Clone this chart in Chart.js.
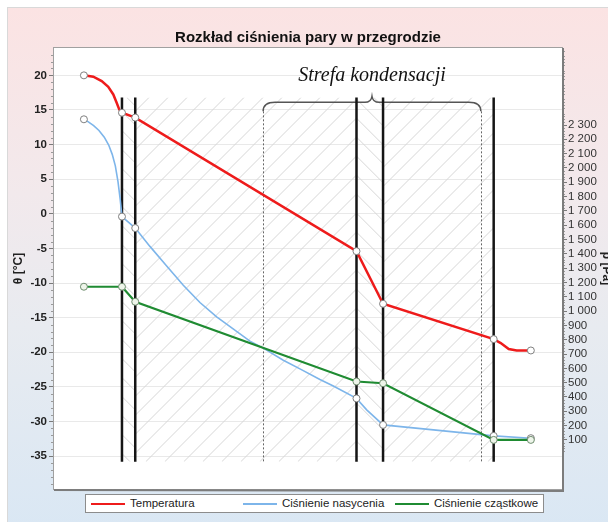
<!DOCTYPE html>
<html>
<head>
<meta charset="utf-8">
<title>Rozkład ciśnienia pary w przegrodzie</title>
<script src="https://cdn.jsdelivr.net/npm/chart.js"></script>
<style>
  html, body { margin: 0; padding: 0; overflow: hidden; background: #fff; }
  #wrap { position: relative; width: 608px; height: 522px; overflow: hidden; }
  #frame { position: absolute; left: 7px; top: 7px; width: 720px; height: 530px;
           border: 1px solid #d9d9d9;
           background: linear-gradient(to bottom, #fbe3e3 0%, #f2e9ec 35%, #e8ebf0 60%, #d9e7f4 100%); }
  #chart { position: absolute; left: 0; top: 0; }
  #legend { position: absolute; left: 85px; top: 494px; width: 457px; height: 17px;
            border: 1px solid #8c8c8c; background: #fff;
            font: 11.5px "Liberation Sans", Arial, sans-serif; color: #222; }
  .item { position: absolute; top: 0; height: 17px; line-height: 17px; white-space: nowrap; }
  .item i { display: inline-block; width: 34px; height: 2px; vertical-align: middle; margin-right: 5px; }
</style>
</head>
<body>
<div id="wrap">
  <div id="frame"></div>
  <canvas id="chart" width="620" height="522"></canvas>
  <div id="legend"></div>
</div>

<script>
// wall layers (cm from the inner surface), air film points outside them
const layerBounds = [0, 1.5, 26.5, 29.5, 42];
const markerX = [-4.3, 0, 1.5, 26.5, 29.5, 42, 46.2];
const condZone = [15.95, 40.55];

const tempTicks = [20, 15, 10, 5, 0, -5, -10, -15, -20, -25, -30, -35];
const pressureTicks = [100, 200, 300, 400, 500, 600, 700, 800, 900, 1000, 1100, 1200,
                       1300, 1400, 1500, 1600, 1700, 1800, 1900, 2000, 2100, 2200, 2300];

// temperature [°C]
const tempX = [-4.3, -3.24, -2.29, -1.55, -0.98, -0.6, -0.31, 0, 1.5, 26.5, 29.5, 42, 42.8, 43.7, 44.6, 46.2];
const tempY = [20, 19.8, 19.16, 18.35, 17.24, 16.04, 15.07, 14.6, 13.9, -5.4, -13.0, -18.1, -18.67, -19.54, -19.74, -19.74];

// saturation pressure [Pa]
const satX = [-4.3, -3.8, -3.2, -2.6, -2.0, -1.5, -1.1, -0.75, -0.45, -0.2, 0, 1.5, 3.16, 5.05, 6.93, 8.81, 10.7,
              14.46, 15.97, 18.23, 20.11, 22.37, 23.88, 26.5, 27.65, 29.5, 35.2, 42, 46.2];
const satP = [2340, 2322, 2296, 2262, 2215, 2160, 2095, 2015, 1905, 1780, 1660, 1580, 1452, 1315, 1180, 1060, 960,
              790, 741, 657, 596, 522, 477, 390, 310, 205, 170, 128, 112];

// partial pressure [Pa]
const partX = [-4.3, 0, 1.5, 26.5, 29.5, 42, 46.2];
const partP = [1170, 1170, 1065, 508, 496, 100, 100];

const wallTop = 16.8, wallBottom = -35.8, braceLevel = 16.1;

const pts = (xs, ys) => xs.map((x, i) => ({ x: x, y: ys[i] }));
const markerR = c => markerX.includes(c.raw.x) ? 3.5 : 0;
const fmtPa = v => String(v).replace(/\B(?=(\d{3})+(?!\d))/g, ' ');

const wallSets = layerBounds.map(x => ({
  data: [{ x: x, y: wallTop }, { x: x, y: wallBottom }],
  yAxisID: 'y', borderColor: '#151515', borderWidth: 2.5, pointRadius: 0, order: 5
}));

const decor = {
  id: 'decor',
  beforeDraw(chart) {
    const { ctx, chartArea: a } = chart;
    ctx.save();
    ctx.fillStyle = '#fff';
    ctx.fillRect(a.left, a.top, a.right - a.left, a.bottom - a.top);
    ctx.restore();
  },
  beforeDatasetsDraw(chart) {
    const { ctx, chartArea: a, scales } = chart;
    const xs = scales.x, ys = scales.y;
    const top = ys.getPixelForValue(wallTop), bot = ys.getPixelForValue(wallBottom);
    const h = bot - top, step = 19;
    const dirs = ['back', 'fwd', 'back', 'fwd'];
    // hatching of the layers
    for (let i = 0; i < layerBounds.length - 1; i++) {
      const x1 = xs.getPixelForValue(layerBounds[i]), x2 = xs.getPixelForValue(layerBounds[i + 1]);
      ctx.save();
      ctx.beginPath();
      ctx.rect(x1, top, x2 - x1, h);
      ctx.clip();
      ctx.beginPath();
      ctx.strokeStyle = '#d6d6d6';
      ctx.lineWidth = 1;
      for (let c = a.left - h; c < a.right + step; c += step) {
        if (dirs[i] === 'fwd') { ctx.moveTo(c, bot); ctx.lineTo(c + h, top); }
        else { ctx.moveTo(c, top); ctx.lineTo(c + h, bot); }
      }
      ctx.stroke();
      ctx.restore();
    }
    // condensation zone: dotted borders, brace, caption
    const z1 = xs.getPixelForValue(condZone[0]), z2 = xs.getPixelForValue(condZone[1]);
    const yb = ys.getPixelForValue(braceLevel), mid = (z1 + z2) / 2;
    ctx.save();
    ctx.strokeStyle = '#666';
    ctx.lineWidth = 1;
    ctx.setLineDash([2, 2]);
    ctx.beginPath();
    ctx.moveTo(Math.round(z1) + 0.5, yb + 9); ctx.lineTo(Math.round(z1) + 0.5, bot);
    ctx.moveTo(Math.round(z2) + 0.5, yb + 9); ctx.lineTo(Math.round(z2) + 0.5, bot);
    ctx.stroke();
    ctx.setLineDash([]);
    ctx.strokeStyle = '#555';
    ctx.lineWidth = 1.5;
    ctx.beginPath();
    ctx.moveTo(z1, yb + 9);
    ctx.quadraticCurveTo(z1, yb, z1 + 12, yb);
    ctx.lineTo(mid - 7, yb);
    ctx.quadraticCurveTo(mid - 1, yb, mid, yb - 6);
    ctx.quadraticCurveTo(mid + 1, yb, mid + 7, yb);
    ctx.lineTo(z2 - 12, yb);
    ctx.quadraticCurveTo(z2, yb, z2, yb + 9);
    ctx.stroke();
    ctx.fillStyle = '#111';
    ctx.font = 'italic 20px "Liberation Serif", "DejaVu Serif", serif';
    ctx.textAlign = 'center';
    ctx.textBaseline = 'alphabetic';
    ctx.fillText('Strefa kondensacji', mid, yb - 21);
    ctx.restore();
  },
  afterDraw(chart) {
    const { ctx, chartArea: a, scales } = chart;
    const ys = scales.y, yr = scales.y2;
    ctx.save();
    // minor ticks
    ctx.strokeStyle = '#9a9a9a';
    ctx.lineWidth = 1;
    ctx.beginPath();
    for (let v = -39; v <= 23; v++) {
      if (v % 5 === 0) continue;
      const py = Math.round(ys.getPixelForValue(v)) + 0.5;
      ctx.moveTo(a.left - 3, py); ctx.lineTo(a.left, py);
    }
    for (let v = 0; v <= 2820; v += 20) {
      if (v % 100 === 0) continue;
      const py = Math.round(yr.getPixelForValue(v)) + 0.5;
      ctx.moveTo(a.right, py); ctx.lineTo(a.right + 3, py);
    }
    ctx.stroke();
    // plot frame
    ctx.strokeStyle = '#a0a0a0';
    ctx.strokeRect(Math.round(a.left) - 0.5, Math.round(a.top) - 0.5, Math.round(a.right - a.left) + 1, Math.round(a.bottom - a.top) + 1);
    ctx.strokeStyle = '#7c7c7c';
    ctx.lineWidth = 2;
    ctx.beginPath();
    ctx.moveTo(Math.round(a.right) + 1, Math.round(a.top));
    ctx.lineTo(Math.round(a.right) + 1, Math.round(a.bottom) + 2);
    ctx.lineTo(Math.round(a.left), Math.round(a.bottom) + 1);
    ctx.stroke();
    ctx.restore();
  }
};

const ctx = document.getElementById('chart').getContext('2d');
const chart = new Chart(ctx, {
  type: 'line',
  data: {
    datasets: [
      { label: 'Temperatura', data: pts(tempX, tempY), yAxisID: 'y', inLegend: true,
        borderColor: '#ee1b1b', borderWidth: 2.5, order: 1,
        pointRadius: markerR, pointBackgroundColor: '#fff', pointBorderColor: '#808080', pointBorderWidth: 1 },
      { label: 'Ciśnienie nasycenia', data: pts(satX, satP), yAxisID: 'y2', inLegend: true,
        borderColor: '#7db5ea', borderWidth: 1.6, order: 3,
        pointRadius: markerR, pointBackgroundColor: '#fff', pointBorderColor: '#808080', pointBorderWidth: 1 },
      { label: 'Ciśnienie cząstkowe', data: pts(partX, partP), yAxisID: 'y2', inLegend: true,
        borderColor: '#1f8b32', borderWidth: 2.2, order: 2,
        pointRadius: markerR, pointBackgroundColor: '#eef5ea', pointBorderColor: '#6f8d6f', pointBorderWidth: 1 }
    ].concat(wallSets)
  },
  options: {
    responsive: false,
    animation: false,
    events: [],
    devicePixelRatio: 1,
    layout: { padding: { left: 7, right: 0, top: 0, bottom: 33 } },
    elements: { line: { tension: 0, fill: false } },
    scales: {
      x: { type: 'linear', min: -7.68, max: 49.72, display: false },
      y: {
        position: 'left', min: -39.75, max: 23.95,
        afterBuildTicks: s => { s.ticks = tempTicks.map(v => ({ value: v })); },
        afterFit: s => { s.width = 47; },
        grid: { color: '#e9e9e9', tickColor: '#7a7a7a', tickLength: 5 },
        border: { display: false },
        ticks: { padding: 2, color: '#222', autoSkip: false,
                 font: { family: 'Liberation Sans', size: 11.5, weight: 'bold' } },
        title: { display: true, text: 'θ [°C]', color: '#222',
                 font: { family: 'Liberation Sans', size: 12, weight: 'bold' }, padding: { top: 4, bottom: 0 } }
      },
      y2: {
        position: 'right', min: -243, max: 2838,
        afterBuildTicks: s => { s.ticks = pressureTicks.map(v => ({ value: v })); },
        afterFit: s => { s.width = 58; },
        grid: { drawOnChartArea: false, tickColor: '#7a7a7a', tickLength: 5 },
        border: { display: false },
        ticks: { padding: 1, color: '#333', autoSkip: false, callback: v => fmtPa(v),
                 font: { family: 'Liberation Sans', size: 11.5 } },
        title: { display: true, text: 'p [Pa]', color: '#222',
                 font: { family: 'Liberation Sans', size: 12, weight: 'bold' }, padding: { top: 6, bottom: 0 } }
      }
    },
    plugins: {
      legend: { display: false },
      tooltip: { enabled: false },
      title: {
        display: true, fullSize: false,
        text: 'Rozkład ciśnienia pary w przegrodzie',
        color: '#111',
        font: { family: 'Liberation Sans', size: 15, weight: 'bold' },
        padding: { top: 28.5, bottom: 1.5 }
      }
    }
  },
  plugins: [decor]
});

// legend in fixed columns, as in the original
const legendBox = document.getElementById('legend');
chart.data.datasets.filter(d => d.inLegend).forEach((d, i) => {
  const item = document.createElement('div');
  item.className = 'item';
  item.style.left = (5 + i * 152) + 'px';
  const swatch = document.createElement('i');
  swatch.style.background = d.borderColor;
  item.appendChild(swatch);
  item.appendChild(document.createTextNode(d.label));
  legendBox.appendChild(item);
});
</script>
</body>
</html>
